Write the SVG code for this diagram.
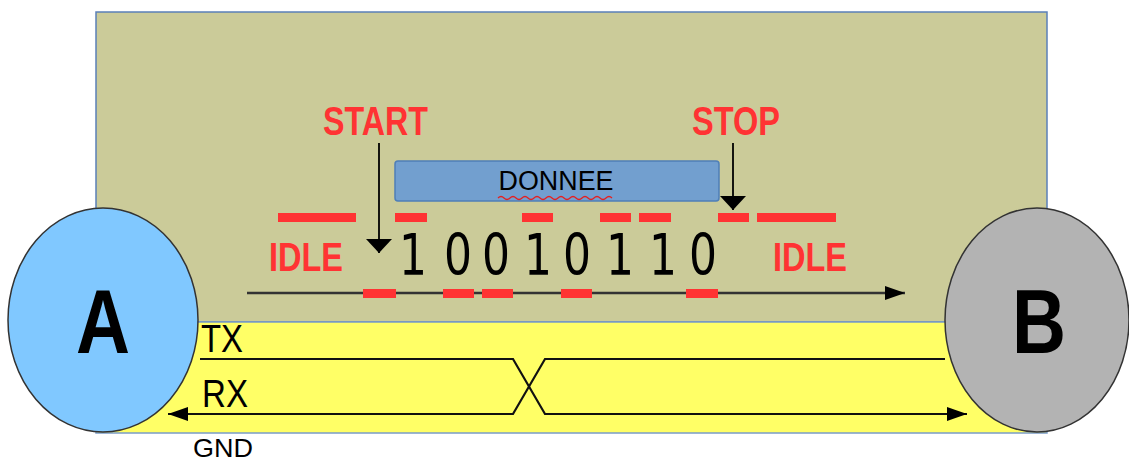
<svg xmlns="http://www.w3.org/2000/svg" width="1129" height="461" viewBox="0 0 1129 461">
<style>
.red{fill:#ff3333;font-family:"Liberation Sans",Arial,sans-serif;font-weight:bold;font-size:40px}
.bit{fill:#000;font-family:"DejaVu Sans","Liberation Sans",sans-serif;font-size:57px;text-anchor:middle}
.lbl{fill:#000;font-family:"Liberation Sans",Arial,sans-serif}
.node{font-family:"Liberation Sans",Arial,sans-serif;font-weight:bold;font-size:90px;fill:#000}
.dash{fill:#ff3333}
.wire{fill:none;stroke:#111;stroke-width:2.2}
</style>
<defs>
<marker id="ah" viewBox="0 0 20 14" refX="20" refY="7" markerWidth="20" markerHeight="14" markerUnits="userSpaceOnUse" orient="auto">
<path d="M0,0 L20,7 L0,14 Z" fill="#000"/>
</marker>
<marker id="ahs" viewBox="0 0 14 26" refX="14" refY="13" markerWidth="14" markerHeight="26" markerUnits="userSpaceOnUse" orient="auto">
<path d="M0,0 L14,13 L0,26 Z" fill="#000"/>
</marker>
</defs>
<g id="bg-olive"><rect x="96" y="12" width="951" height="310" fill="#cbcb99" stroke="#5b80b8" stroke-width="1.5"/></g>
<g id="bg-yellow"><rect x="96" y="322" width="951" height="111" fill="#ffff66" stroke="#7a9cc8" stroke-width="1.5"/></g>
<g id="donnee">
<rect x="395" y="161" width="324" height="40" rx="3" fill="#729fcf" stroke="#4f7fb8" stroke-width="1.5"/>
<text class="lbl" x="556" y="190" font-size="27" text-anchor="middle" textLength="115" lengthAdjust="spacingAndGlyphs">DONNEE</text>
<path d="M498,198 q3,-3 6,0 t6,0 t6,0 t6,0 t6,0 t6,0 t6,0 t6,0 t6,0 t6,0 t6,0 t6,0 t6,0 t6,0 t6,0 t6,0 t6,0 t6,0 t6,0" fill="none" stroke="#e52020" stroke-width="1.2"/>
</g>
<g id="labels">
<text class="red" x="323" y="135" textLength="105" lengthAdjust="spacingAndGlyphs">START</text>
<text class="red" x="692" y="135" textLength="88" lengthAdjust="spacingAndGlyphs">STOP</text>
<text class="red" x="269" y="271" textLength="74" lengthAdjust="spacingAndGlyphs">IDLE</text>
<text class="red" x="773" y="271" textLength="74" lengthAdjust="spacingAndGlyphs">IDLE</text>
</g>
<g id="bits">
<text class="bit" x="413" y="275" textLength="28" lengthAdjust="spacingAndGlyphs">1</text>
<text class="bit" x="458" y="275" textLength="28" lengthAdjust="spacingAndGlyphs">0</text>
<text class="bit" x="496" y="275" textLength="28" lengthAdjust="spacingAndGlyphs">0</text>
<text class="bit" x="538" y="275" textLength="28" lengthAdjust="spacingAndGlyphs">1</text>
<text class="bit" x="577" y="275" textLength="28" lengthAdjust="spacingAndGlyphs">0</text>
<text class="bit" x="620" y="275" textLength="28" lengthAdjust="spacingAndGlyphs">1</text>
<text class="bit" x="663" y="275" textLength="28" lengthAdjust="spacingAndGlyphs">1</text>
<text class="bit" x="703" y="275" textLength="28" lengthAdjust="spacingAndGlyphs">0</text>
</g>
<g id="connectors">
<line x1="247" y1="293" x2="905" y2="293" stroke="#333" stroke-width="2.5" marker-end="url(#ah)"/>
<line x1="379" y1="143" x2="379" y2="253" stroke="#000" stroke-width="1.8" marker-end="url(#ahs)"/>
<line x1="733" y1="143" x2="733" y2="210" stroke="#000" stroke-width="1.8" marker-end="url(#ahs)"/>
<polyline class="wire" points="200,359 513,359 545,414 967,414" marker-end="url(#ah)"/>
<polyline class="wire" points="945,359 545,359 513,414 168,414" marker-end="url(#ah)"/>
</g>
<g id="signal">
<rect class="dash" x="278" y="213" width="78" height="9"/>
<rect class="dash" x="395" y="213" width="32" height="9"/>
<rect class="dash" x="522" y="213" width="31" height="9"/>
<rect class="dash" x="600" y="213" width="31" height="9"/>
<rect class="dash" x="639" y="213" width="32" height="9"/>
<rect class="dash" x="718" y="213" width="31" height="9"/>
<rect class="dash" x="757" y="213" width="79" height="9"/>
<rect class="dash" x="363" y="289" width="33" height="9"/>
<rect class="dash" x="443" y="289" width="31" height="9"/>
<rect class="dash" x="482" y="289" width="31" height="9"/>
<rect class="dash" x="561" y="289" width="31" height="9"/>
<rect class="dash" x="686" y="289" width="32" height="9"/>
</g>
<g id="node-A">
<ellipse cx="103" cy="320" rx="95" ry="112" fill="#80c8ff" stroke="#333" stroke-width="1.5"/>
<text class="node" x="103" y="353" text-anchor="middle" textLength="54" lengthAdjust="spacingAndGlyphs">A</text>
</g>
<g id="node-B">
<ellipse cx="1037" cy="320" rx="92" ry="112" fill="#b3b3b3" stroke="#333" stroke-width="1.5"/>
<text class="node" x="1039" y="353" text-anchor="middle" textLength="54" lengthAdjust="spacingAndGlyphs">B</text>
</g>
<g id="wire-labels">
<text class="lbl" x="201" y="352" font-size="39" textLength="42" lengthAdjust="spacingAndGlyphs">TX</text>
<text class="lbl" x="202" y="407" font-size="39" textLength="46" lengthAdjust="spacingAndGlyphs">RX</text>
<text class="lbl" x="193" y="457" font-size="26" textLength="60" lengthAdjust="spacingAndGlyphs">GND</text>
</g>
</svg>
